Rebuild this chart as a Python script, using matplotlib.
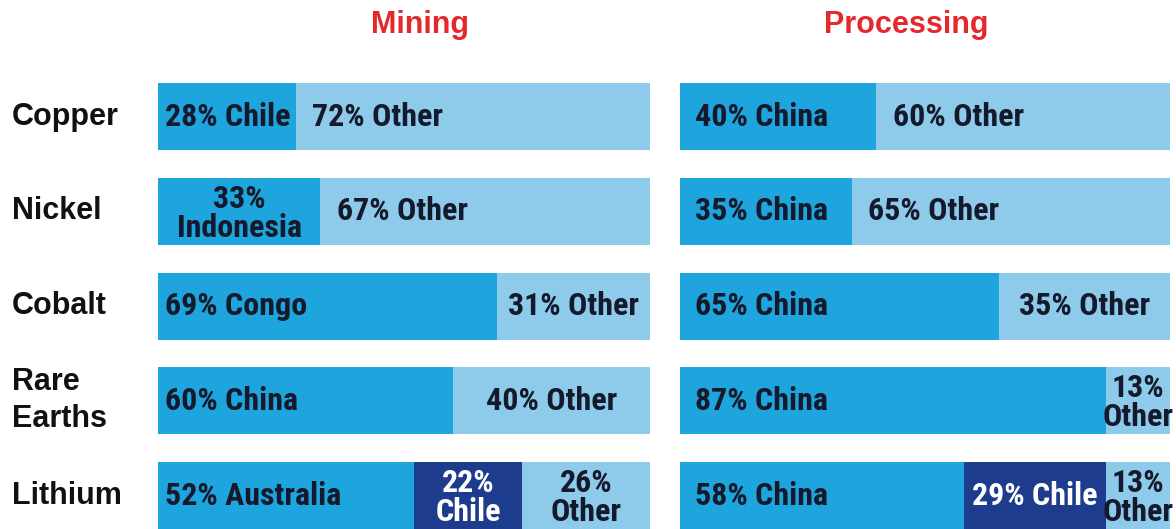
"""
Mining vs processing concentration of critical minerals, shown as
100% stacked horizontal bars for each mineral.
"""

import matplotlib
matplotlib.use('Agg')
import matplotlib.pyplot as plt
from matplotlib import font_manager
from matplotlib.transforms import blended_transform_factory

# Data
MINERALS = ['Copper', 'Nickel', 'Cobalt', 'Rare\nEarths', 'Lithium']

MINING_SHARES = [[28, 72], [33, 67], [69, 31], [60, 40], [52, 22, 26]]
MINING_SOURCES = [['Chile', 'Other'], ['Indonesia', 'Other'], ['Congo', 'Other'],
                  ['China', 'Other'], ['Australia', 'Chile', 'Other']]

PROCESSING_SHARES = [[40, 60], [35, 65], [65, 35], [87, 13], [58, 29, 13]]
PROCESSING_SOURCES = [['China', 'Other'], ['China', 'Other'], ['China', 'Other'],
                      ['China', 'Other'], ['China', 'Chile', 'Other']]

# Style
W, H, DPI = 1176, 529, 100
MAIN_BLUE = '#1ea5de'
SECOND_BLUE = '#1e3c8e'
OTHER_BLUE = '#8ecbeb'
TEXT_DARK = '#141a2c'
TITLE_RED = '#e4282c'
BAR_HEIGHT = 0.707
ROW_PITCH = 94.8       # pixels between row centres
FIRST_ROW_Y = 116.5    # pixel centre of the first row


def pick_font(names):
    for name in names:
        try:
            font_manager.findfont(font_manager.FontProperties(family=name, weight='bold'),
                                  fallback_to_default=False)
            return name
        except ValueError:
            continue
    return 'DejaVu Sans'


NARROW = pick_font(['Liberation Sans Narrow', 'Roboto Condensed', 'Liberation Sans'])
BAR_FONT_SIZE = {'Liberation Sans Narrow': 23, 'Roboto Condensed': 23}.get(NARROW, 19)
REGULAR = pick_font(['Liberation Sans', 'Arial', 'DejaVu Sans'])


def draw_panel(fig, ax, shares_rows, source_rows, first_pad):
    renderer = fig.canvas.get_renderer()
    px_per_unit = ax.get_window_extent().width / 100.0

    for i, (shares, sources) in enumerate(zip(shares_rows, source_rows)):
        left = 0
        n = len(shares)
        for j, (val, src) in enumerate(zip(shares, sources)):
            if j == 0:
                color, tcolor = MAIN_BLUE, TEXT_DARK
            elif j == n - 1:
                color, tcolor = OTHER_BLUE, TEXT_DARK
            else:
                color, tcolor = SECOND_BLUE, 'white'
            ax.barh(i, val, left=left, height=BAR_HEIGHT, color=color,
                    edgecolor='none')

            label = f'{val}% {src}'
            txt = ax.text(left + val / 2, i, label, ha='center', va='center',
                          color=tcolor, fontsize=BAR_FONT_SIZE, fontweight='bold',
                          family=NARROW, linespacing=0.95)
            seg_px = val * px_per_unit
            wrapped = txt.get_window_extent(renderer).width > seg_px - 6
            if wrapped:
                txt.set_text(f'{val}%\n{src}')
                txt.set_y(i + 0.02)

            # long segments get a left-aligned label, short ones centred
            if j == 0 and not wrapped:
                txt.set_x(left + first_pad)
                txt.set_ha('left')
            elif j == n - 1 and n > 1 and val >= 50:
                txt.set_x(left + 3.4)
                txt.set_ha('left')
            left += val

    ax.set_xlim(0, 100)
    y_top = (0 - FIRST_ROW_Y) / ROW_PITCH
    y_bot = (H - FIRST_ROW_Y) / ROW_PITCH
    ax.set_ylim(y_bot, y_top)
    ax.axis('off')


def create_chart():
    fig = plt.figure(figsize=(W / DPI, H / DPI), dpi=DPI)
    fig.patch.set_facecolor('white')

    ax_mine = fig.add_axes([158 / W, 0, 492 / W, 1])
    ax_proc = fig.add_axes([680 / W, 0, 490 / W, 1])

    draw_panel(fig, ax_mine, MINING_SHARES, MINING_SOURCES, first_pad=1.5)
    draw_panel(fig, ax_proc, PROCESSING_SHARES, PROCESSING_SOURCES, first_pad=3.0)

    # Panel titles
    fig.text(420 / W, 1 - 33 / H, 'Mining', ha='center', va='baseline',
             color=TITLE_RED, fontsize=22, fontweight='bold', family=REGULAR)
    fig.text(906 / W, 1 - 33 / H, 'Processing', ha='center', va='baseline',
             color=TITLE_RED, fontsize=22, fontweight='bold', family=REGULAR)

    # Mineral names down the left edge
    trans = blended_transform_factory(fig.transFigure, ax_mine.transData)
    for i, name in enumerate(MINERALS):
        fig.text(12 / W, i, name, transform=trans, ha='left', va='center',
                 color='#111111', fontsize=22, fontweight='bold', family=REGULAR,
                 linespacing=1.3)

    fig.savefig('out.png', dpi=DPI, facecolor='white')


if __name__ == '__main__':
    create_chart()
